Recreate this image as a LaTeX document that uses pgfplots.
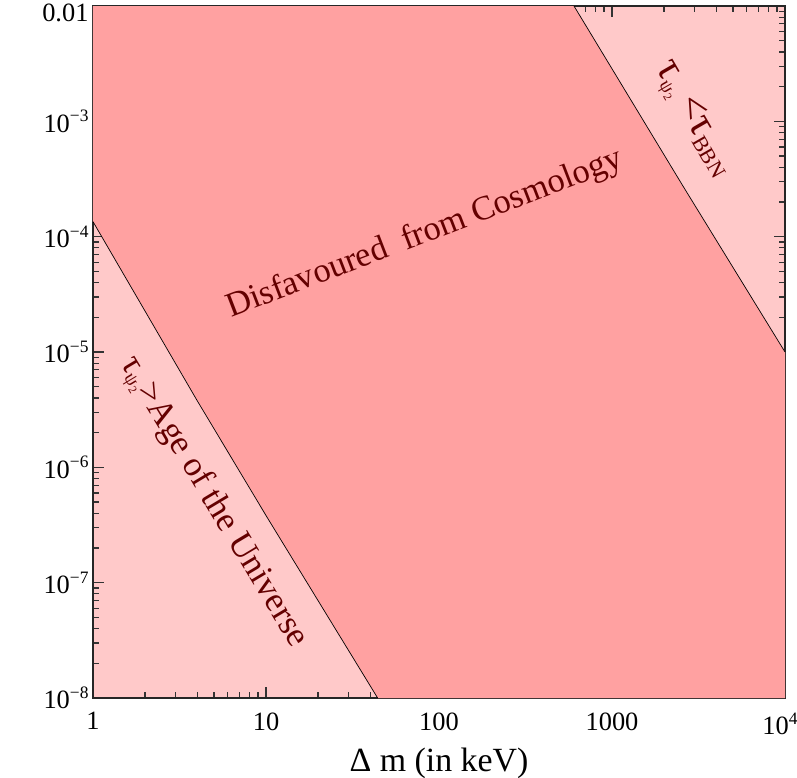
\documentclass[border=0pt]{standalone}
\usepackage{fontspec}
\setmainfont{Liberation Serif}
\usepackage{pgfplots}
\pgfplotsset{compat=1.18}
\definecolor{band}{RGB}{255,161,161}
\definecolor{lightpink}{RGB}{255,201,201}
\definecolor{txt}{RGB}{100,0,0}
\newcommand{\tpsi}{τ\raisebox{-0.3ex}{\fontsize{19}{19}\selectfont ψ\raisebox{-0.25ex}{\fontsize{12}{12}\selectfont 2}}}
\newcommand{\tsup}[1]{\raisebox{0.85ex}{\fontsize{17.5}{17.5}\selectfont #1}}
\begin{document}
\begin{tikzpicture}
\begin{axis}[
  scale only axis, width=692bp, height=692bp,
  xmode=log, ymode=log,
  xmin=1, xmax=1e4, ymin=1e-8, ymax=1e-2,
  axis background/.style={fill=lightpink},
  xtick={1,10,100,1000,10000},
  xticklabels={1,10,100,1000,10\tsup{4}\kern10bp},
  ytick={1e-8,1e-7,1e-6,1e-5,1e-4,1e-3,1e-2},
  yticklabels={10\tsup{−8},10\tsup{−7},10\tsup{−6},10\tsup{−5},10\tsup{−4},10\tsup{−3},\raisebox{-7bp}[17bp][0pt]{0.01}},
  tick align=inside,
  major tick length=11bp, minor tick length=6bp,
  tick style={black!80, line width=1.2bp},
  axis line style={line width=1.6bp, black!85},
  ticklabel style={font=\fontsize{26.5}{31}\selectfont},
  xticklabel style={yshift=-11bp},
  yticklabel style={xshift=-1bp},
  xlabel={Δ m (in keV)},
  xlabel style={font=\fontsize{34}{40}\selectfont, yshift=-7bp},
  clip=true,
]
\addplot[fill=band, draw=none] coordinates {
  (1,1.35e-4) (1,1e-2) (603,1e-2) (2582,2.72e-4) (1e4,1e-5) (1e4,1e-8) (44.2,1e-8) (10.1,3.73e-7) (3.98,3.84e-6)
} -- cycle;
\addplot[black, line width=0.7bp] coordinates {
  (1,1.35e-4) (3.98,3.84e-6) (10.1,3.73e-7) (44.2,1e-8)
};
\addplot[black, line width=0.7bp] coordinates {
  (603,1e-2) (2582,2.72e-4) (1e4,1e-5)
};
\node[txt, rotate=21, font=\fontsize{34.5}{40}\selectfont] at (axis cs:83,1.05e-4) {Disfavoured\ \ from\ Cosmology};
\node[txt, rotate=-59, font=\fontsize{35}{40}\selectfont] at (axis cs:4.94,5.0e-7) {\tpsi>Age of the Universe};
\node[txt, rotate=-60, font=\fontsize{42}{46}\selectfont] at (axis cs:2950,1.05e-3) {\tpsi\,<τ\raisebox{-0.3ex}{\fontsize{22}{22}\selectfont BBN}};
\node[xshift=-66bp, rotate=90, font=\fontsize{32}{38}\selectfont] at (rel axis cs:0,0.49) {ε g$'$};
\end{axis}
\pgfresetboundingbox
\path (-93bp,-80bp) rectangle (704bp,698bp);
\end{tikzpicture}
\end{document}
